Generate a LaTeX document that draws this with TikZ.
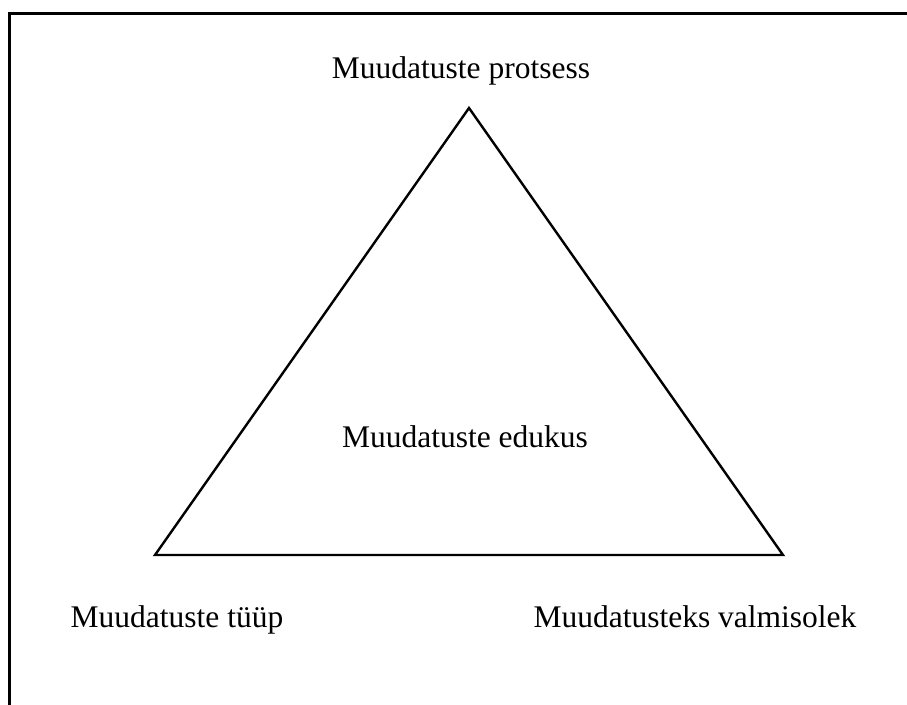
\documentclass[tikz,border=0pt]{standalone}
\usepackage{fontspec}
\setmainfont{Liberation Serif}
\begin{document}
\begin{tikzpicture}[x=1pt,y=-1pt,
  lbl/.style={anchor=base,inner sep=0pt,font=\fontsize{31.5}{36}\selectfont},
  tri/.style={line width=2.4pt,line join=miter},
  frame/.style={line width=3pt}]
\useasboundingbox (0,0) rectangle (907,704);
\draw[frame] (9.5,710) -- (9.5,13.5) -- (910,13.5);
\coordinate (top) at (469,108);
\coordinate (bl) at (155,555);
\coordinate (br) at (783,555);
\draw[tri] (top) -- (bl) -- (br) -- cycle;
\node[lbl] (process) at (461,78) {Muudatuste protsess};
\node[lbl] (success) at (465,447) {Muudatuste edukus};
\node[lbl] (type) at (177,627) {Muudatuste tüüp};
\node[lbl] (ready) at (695,627) {Muudatusteks valmisolek};
\end{tikzpicture}
\end{document}
